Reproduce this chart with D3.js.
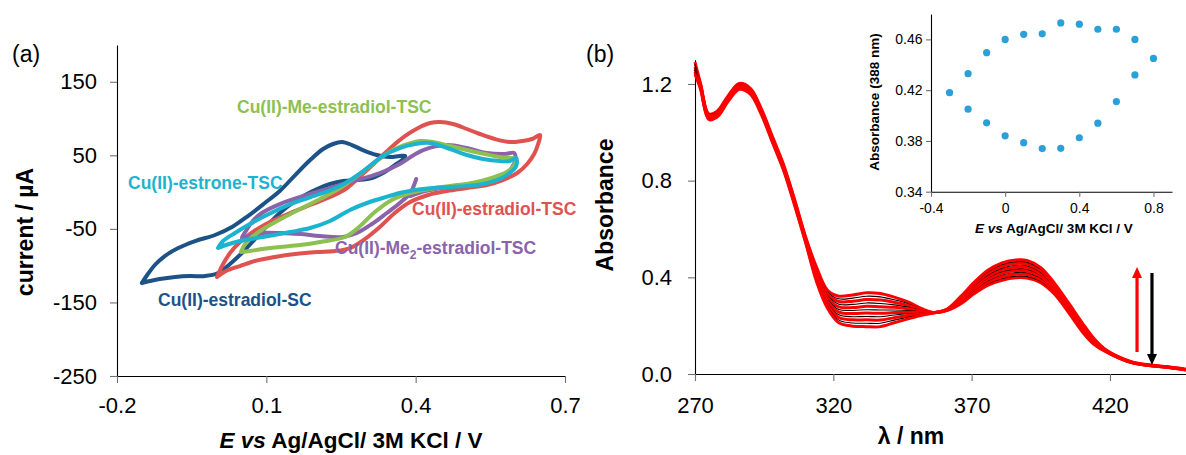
<!DOCTYPE html>
<html><head><meta charset="utf-8">
<script src="https://cdn.jsdelivr.net/npm/d3@7"></script>
<style>
html,body{margin:0;padding:0;background:#fff;}
svg{display:block;font-family:"Liberation Sans",Arial,Helvetica,sans-serif;}
</style></head><body>
<svg id="chart" width="1186" height="455"></svg>
<script>
// ---------------- Panel (a): cyclic voltammograms ----------------
const cvPotentialTicks = [-0.2, 0.1, 0.4, 0.7];
const cvPotentialTickLabels = ["-0.2", "0.1", "0.4", "0.7"];
const cvCurrentTicks = [150, 50, -50, -150, -250];
const cvCurrentTickLabels = ["150", "50", "-50", "-150", "-250"];

const cvEstradiolSC = [[-0.150,-123.6],[-0.138,-111.3],[-0.124,-99.1],[-0.104,-86.9],[-0.077,-76.0],[-0.043,-66.5],[-0.003,-58.3],[0.031,-47.4],[0.063,-32.5],[0.097,-14.8],[0.127,1.5],[0.158,23.2],[0.188,43.6],[0.214,58.6],[0.234,65.4],[0.252,68.1],[0.272,64.0],[0.294,57.2],[0.322,50.4],[0.348,47.7],[0.368,49.1],[0.379,49.1],[0.373,43.6],[0.358,36.8],[0.338,27.3],[0.312,19.2],[0.282,16.4],[0.254,15.1],[0.228,11.0],[0.202,4.2],[0.178,-3.9],[0.152,-14.8],[0.127,-28.4],[0.101,-46.1],[0.077,-63.8],[0.053,-81.4],[0.027,-97.7],[0.003,-110.0],[-0.023,-114.1],[-0.053,-114.1],[-0.083,-115.4],[-0.114,-118.1],[-0.134,-120.9],[-0.150,-123.6]];
const cvEstradiolTSC = [[0.001,-115.4],[0.011,-100.5],[0.027,-82.8],[0.047,-67.8],[0.073,-54.2],[0.107,-40.6],[0.148,-28.4],[0.188,-17.5],[0.228,-6.7],[0.262,5.6],[0.298,27.3],[0.328,46.4],[0.354,62.7],[0.379,76.3],[0.405,87.1],[0.429,93.9],[0.449,95.3],[0.475,92.6],[0.503,85.8],[0.529,79.0],[0.559,72.2],[0.589,68.1],[0.614,69.5],[0.634,72.2],[0.650,77.6],[0.646,65.4],[0.638,51.8],[0.624,38.2],[0.604,26.0],[0.575,16.4],[0.543,9.7],[0.503,5.6],[0.463,1.5],[0.425,-3.9],[0.389,-13.5],[0.358,-28.4],[0.328,-47.4],[0.298,-63.8],[0.268,-76.0],[0.238,-80.1],[0.202,-81.4],[0.158,-84.1],[0.117,-88.2],[0.077,-93.7],[0.047,-100.5],[0.019,-107.3],[0.001,-115.4]];
const cvMe2EstradiolTSC = [[0.401,17.8],[0.389,-1.2],[0.368,-14.8],[0.342,-28.4],[0.312,-43.4],[0.282,-55.6],[0.254,-61.0],[0.208,-59.7],[0.168,-57.0],[0.127,-55.6],[0.093,-55.6],[0.067,-59.7],[0.051,-62.4],[0.059,-52.9],[0.071,-40.6],[0.091,-28.4],[0.127,-16.2],[0.194,-1.2],[0.262,12.4],[0.328,25.9],[0.368,38.2],[0.393,49.1],[0.415,57.2],[0.463,64.0],[0.503,59.9],[0.543,53.2],[0.579,51.8],[0.598,53.2],[0.600,43.6],[0.593,32.8],[0.579,23.3],[0.549,16.4],[0.509,11.0],[0.463,6.9],[0.419,1.5],[0.389,-5.3]];
const cvMeEstradiolTSC = [[0.049,-81.4],[0.057,-70.6],[0.071,-61.0],[0.097,-48.8],[0.133,-35.2],[0.168,-23.0],[0.208,-9.4],[0.248,5.6],[0.288,24.6],[0.324,43.6],[0.354,57.2],[0.385,65.4],[0.409,69.5],[0.435,68.1],[0.469,62.7],[0.503,57.2],[0.539,51.8],[0.569,47.7],[0.589,46.4],[0.600,45.0],[0.597,35.5],[0.583,27.3],[0.553,19.2],[0.513,12.4],[0.469,8.3],[0.429,4.2],[0.389,-1.2],[0.352,-10.7],[0.318,-27.1],[0.284,-48.8],[0.258,-61.0],[0.208,-67.8],[0.168,-71.9],[0.127,-74.6],[0.091,-77.4],[0.067,-80.1],[0.049,-81.4]];
const cvEstroneTSC = [[0.003,-76.0],[0.013,-66.5],[0.037,-55.6],[0.067,-43.4],[0.097,-32.5],[0.148,-16.2],[0.202,-3.9],[0.248,8.3],[0.292,27.3],[0.334,49.1],[0.368,59.9],[0.399,65.4],[0.429,66.8],[0.469,58.6],[0.503,50.4],[0.535,45.0],[0.569,42.3],[0.589,42.3],[0.602,46.4],[0.602,35.5],[0.589,26.0],[0.569,17.8],[0.535,11.0],[0.503,8.3],[0.469,6.9],[0.435,5.6],[0.399,2.9],[0.368,-1.2],[0.334,-8.0],[0.302,-14.8],[0.268,-24.3],[0.228,-39.3],[0.188,-48.8],[0.148,-54.2],[0.093,-61.0],[0.047,-66.5],[0.019,-71.9],[0.003,-76.0]];

const cvSeries = [
  {name: "Cu(II)-estradiol-SC", color: "#1d5287", data: cvEstradiolSC},
  {name: "Cu(II)-estradiol-TSC", color: "#e05250", data: cvEstradiolTSC},
  {name: "Cu(II)-Me2-estradiol-TSC", color: "#8a63ab", data: cvMe2EstradiolTSC},
  {name: "Cu(II)-Me-estradiol-TSC", color: "#8dc050", data: cvMeEstradiolTSC},
  {name: "Cu(II)-estrone-TSC", color: "#1cb3cf", data: cvEstroneTSC}
];

// ---------------- Panel (b): UV-vis spectra ----------------
const uvTicks = [270, 320, 370, 420];
const uvTickLabels = ["270", "320", "370", "420"];
const absTicks = [0, 0.4, 0.8, 1.2];
const absTickLabels = ["0.0", "0.4", "0.8", "1.2"];

const uvWavelengths = [270,272,275,278,282,286,290,294,298,302,306,310,314,318,322,327,332,337,342,347,352,356,361,366,371,376,381,386,390,395,400,405,410,414,418,423,428,434,441,447.5];

const spectrum0  = [1.29,1.202,1.077,1.087,1.152,1.202,1.182,1.097,0.982,0.867,0.722,0.567,0.44, .345,.322,.327,.336,.333,.318,.298,.270,.255,.262,.290,.333,.368,.388,.398,.397,.378,.330,.255,.175,.125, .095,.067,.046,.035,.027,.017];
const spectrum1  = [1.28,1.200,1.075,1.085,1.150,1.200,1.180,1.095,0.980,0.865,0.720,0.565,0.435,.338,.311,.314,.322,.319,.307,.291,.267,.255,.263,.293,.338,.374,.395,.405,.404,.384,.335,.259,.179,.128, .096,.068,.046,.035,.027,.017];
const spectrum2  = [1.27,1.197,1.072,1.082,1.147,1.197,1.177,1.092,0.977,0.862,0.717,0.562,0.428,.330,.300,.301,.308,.306,.297,.284,.265,.254,.263,.296,.342,.380,.402,.413,.412,.390,.339,.263,.182,.130, .097,.068,.047,.035,.028,.017];
const spectrum3  = [1.28,1.195,1.070,1.080,1.145,1.195,1.175,1.090,0.975,0.860,0.715,0.560,0.422,.323,.289,.288,.294,.292,.286,.277,.262,.254,.264,.299,.347,.387,.410,.420,.419,.397,.344,.267,.186,.133, .098,.069,.047,.036,.028,.018];
const spectrum4  = [1.26,1.192,1.067,1.077,1.142,1.192,1.172,1.087,0.972,0.857,0.712,0.557,0.415,.315,.278,.275,.280,.278,.276,.270,.259,.254,.264,.302,.352,.393,.417,.428,.426,.403,.348,.271,.190,.135, .099,.069,.047,.036,.028,.018];
const spectrum5  = [1.27,1.190,1.065,1.075,1.140,1.190,1.170,1.085,0.970,0.855,0.710,0.555,0.410,.308,.267,.263,.266,.265,.265,.263,.257,.254,.265,.305,.357,.399,.424,.435,.434,.409,.353,.275,.194,.138, .100,.070,.048,.036,.028,.018];
const spectrum6  = [1.25,1.188,1.063,1.073,1.138,1.188,1.168,1.083,0.968,0.853,0.708,0.553,0.405,.300,.256,.250,.252,.251,.254,.256,.254,.253,.266,.308,.361,.405,.431,.442,.441,.415,.357,.279,.197,.140, .101,.070,.048,.036,.028,.018];
const spectrum7  = [1.26,1.185,1.060,1.070,1.135,1.185,1.165,1.080,0.965,0.850,0.705,0.550,0.398,.293,.245,.237,.238,.237,.244,.249,.251,.253,.266,.311,.366,.411,.438,.450,.448,.421,.362,.283,.201,.143, .102,.071,.048,.037,.029,.019];
const spectrum8  = [1.25,1.183,1.058,1.068,1.133,1.183,1.163,1.078,0.963,0.848,0.703,0.548,0.392,.285,.234,.224,.224,.223,.233,.242,.248,.253,.267,.314,.371,.418,.446,.457,.455,.428,.366,.287,.205,.145, .103,.071,.049,.037,.029,.019];
const spectrum9  = [1.26,1.180,1.055,1.065,1.130,1.180,1.160,1.075,0.960,0.845,0.700,0.545,0.385,.278,.223,.211,.210,.210,.223,.235,.246,.252,.267,.317,.375,.424,.453,.465,.463,.434,.371,.291,.208,.148, .104,.072,.049,.037,.029,.019];
const spectrum10 = [1.24,1.178,1.053,1.063,1.128,1.178,1.158,1.073,0.958,0.843,0.698,0.543,0.380,.270,.212,.198,.196,.196,.212,.228,.243,.252,.268,.320,.380,.430,.460,.472,.470,.440,.375,.295,.212,.150, .105,.072,.050,.038,.030,.020];

const spectraOrder = [
  {values: spectrum0, kind: "red"}, {values: spectrum1, kind: "black"},
  {values: spectrum2, kind: "red"}, {values: spectrum3, kind: "black"},
  {values: spectrum4, kind: "red"}, {values: spectrum5, kind: "black"},
  {values: spectrum6, kind: "red"}, {values: spectrum7, kind: "black"},
  {values: spectrum8, kind: "red"}, {values: spectrum9, kind: "black"},
  {values: spectrum10, kind: "red"}
];

// arrows (wavelength, from absorbance, to absorbance)
const arrowRed = [429.8, 0.091, 0.443];
const arrowBlack = [435.2, 0.418, 0.037];

// ---------------- Inset ----------------
const insetPotentialTicks = [-0.4, 0, 0.4, 0.8];
const insetPotentialTickLabels = ["-0.4", "0", "0.4", "0.8"];
const insetAbsTicks = [0.34, 0.38, 0.42, 0.46];
const insetAbsTickLabels = ["0.34", "0.38", "0.42", "0.46"];
const insetPotential = [-0.3,-0.2,-0.1,0,0.1,0.2,0.3,0.4,0.5,0.6,0.7,0.8, 0.7,0.6,0.5,0.4,0.3,0.2,0.1,0,-0.1,-0.2];
const insetAbs388 = [0.418,0.433,0.4495,0.460,0.464,0.4644,0.473,0.472,0.468,0.468,0.460,0.445, 0.432,0.411,0.394,0.3825,0.3742,0.374,0.3786,0.384,0.3943,0.405];

// ================= drawing =================
const svg = d3.select("#chart");
svg.append("rect").attr("width",1186).attr("height",455).attr("fill","#fff");
const FONT = '"Liberation Sans", Arial, Helvetica, sans-serif';

function styleAxis(g, fontSize) {
  g.select(".domain").attr("stroke", "#000").attr("stroke-width", 1.1);
  g.selectAll(".tick line").attr("stroke", "#707070").attr("stroke-width", 1.1);
  g.selectAll(".tick text").attr("fill", "#000").attr("font-size", fontSize).attr("font-family", FONT);
  g.attr("font-family", FONT);
}

// ---- Panel (a)
const xA = d3.scaleLinear().domain([-0.2, 0.7]).range([117, 565]);
const yA = d3.scaleLinear().domain([-250, 200]).range([376, 45]);

const gAy = svg.append("g").attr("transform", "translate(117,0)")
  .call(d3.axisLeft(yA).tickValues(cvCurrentTicks).tickFormat((d,i)=>cvCurrentTickLabels[i]).tickSize(7).tickSizeOuter(0).tickPadding(13));
styleAxis(gAy, 22);
const gAx = svg.append("g").attr("transform", "translate(0,376)")
  .call(d3.axisBottom(xA).tickValues(cvPotentialTicks).tickFormat((d,i)=>cvPotentialTickLabels[i]).tickSize(7).tickSizeOuter(0).tickPadding(14));
styleAxis(gAx, 22);

const cvLine = d3.line().x(d=>xA(d[0])).y(d=>yA(d[1])).curve(d3.curveCatmullRom.alpha(0.5));
svg.append("g").selectAll("path").data(cvSeries).join("path")
  .attr("d", d=>cvLine(d.data)).attr("fill","none").attr("stroke", d=>d.color)
  .attr("stroke-width", 4).attr("stroke-linejoin","round").attr("stroke-linecap","round");

// labels for panel (a)
const labFont = 17.5;
function cvLabel(text, color, x, y) {
  return svg.append("text").attr("x", x).attr("y", y).attr("fill", color)
    .attr("font-size", labFont).attr("font-weight", "bold").attr("font-family", FONT).text(text);
}
cvLabel("Cu(II)-Me-estradiol-TSC", cvSeries[3].color, 237, 113);
cvLabel("Cu(II)-estrone-TSC", cvSeries[4].color, 128, 189);
cvLabel("Cu(II)-estradiol-TSC", cvSeries[1].color, 412, 215);
cvLabel("Cu(II)-estradiol-SC", cvSeries[0].color, 158, 306);
{
  const t = svg.append("text").attr("x", 335).attr("y", 254).attr("fill", cvSeries[2].color)
    .attr("font-size", labFont).attr("font-weight", "bold").attr("font-family", FONT);
  t.append("tspan").text("Cu(II)-Me");
  t.append("tspan").attr("font-size", 12).attr("dy", 5).text("2");
  t.append("tspan").attr("dy", -5).text("-estradiol-TSC");
}

// titles (a)
svg.append("text").attr("transform","translate(33,232) rotate(-90)").attr("text-anchor","middle")
  .attr("font-size", 23).attr("font-weight","bold").attr("font-family", FONT).text("current / µA");
{
  const t = svg.append("text").attr("x", 351).attr("y", 448).attr("text-anchor","middle")
    .attr("font-size", 22.5).attr("font-weight","bold").attr("font-family", FONT);
  t.append("tspan").attr("font-style","italic").text("E vs");
  t.append("tspan").text(" Ag/AgCl/ 3M KCl / V");
}
svg.append("text").attr("x", 12).attr("y", 62).attr("font-size", 23).attr("font-family", FONT).text("(a)");

// ---- Panel (b)
const xB = d3.scaleLinear().domain([270, 447.5]).range([695, 1186]);
const yB = d3.scaleLinear().domain([0, 1.3]).range([374, 59.8]);

const gBy = svg.append("g").attr("transform", "translate(695,0)")
  .call(d3.axisLeft(yB).tickValues(absTicks).tickFormat((d,i)=>absTickLabels[i]).tickSize(7).tickSizeOuter(0).tickPadding(16));
styleAxis(gBy, 22);
const gBx = svg.append("g").attr("transform", "translate(0,374)")
  .call(d3.axisBottom(xB).tickValues(uvTicks).tickFormat((d,i)=>uvTickLabels[i]).tickSize(7).tickSizeOuter(0).tickPadding(16));
styleAxis(gBx, 22);

const specLine = d3.line().x((d,i)=>xB(uvWavelengths[i])).y(d=>yB(d)).curve(d3.curveCatmullRom.alpha(0.5));
svg.append("g").selectAll("path").data(spectraOrder).join("path")
  .attr("d", d=>specLine(d.values)).attr("fill","none")
  .attr("stroke", d=>d.kind==="red" ? "#ff0000" : "#000")
  .attr("stroke-width", d=>d.kind==="red" ? 3 : 1.1)
  .attr("stroke-linejoin","round");

// arrows
function arrow(spec, color) {
  const x = xB(spec[0]), y1 = yB(spec[1]), y2 = yB(spec[2]);
  const dir = y2 < y1 ? -1 : 1;
  const headLen = 11, headW = 5;
  svg.append("line").attr("x1", x).attr("x2", x).attr("y1", y1).attr("y2", y2 - dir*headLen)
    .attr("stroke", color).attr("stroke-width", 3.2);
  svg.append("path").attr("d", `M${x},${y2} L${x-headW},${y2-dir*headLen} L${x+headW},${y2-dir*headLen} Z`).attr("fill", color);
}
arrow(arrowRed, "#ff0000");
arrow(arrowBlack, "#000");

svg.append("text").attr("transform","translate(613,205) rotate(-90)").attr("text-anchor","middle")
  .attr("font-size", 23).attr("font-weight","bold").attr("font-family", FONT).text("Absorbance");
svg.append("text").attr("x", 911).attr("y", 444).attr("text-anchor","middle")
  .attr("font-size", 23).attr("font-weight","bold").attr("font-family", FONT).text("λ / nm");
svg.append("text").attr("x", 586).attr("y", 62).attr("font-size", 23).attr("font-family", FONT).text("(b)");

// ---- Inset
const xI = d3.scaleLinear().domain([-0.4, 0.9]).range([931, 1172]);
const yI = d3.scaleLinear().domain([0.34, 0.48]).range([191.7, 14]);
const gIy = svg.append("g").attr("transform", "translate(931,0)")
  .call(d3.axisLeft(yI).tickValues(insetAbsTicks).tickFormat((d,i)=>insetAbsTickLabels[i]).tickSize(5).tickSizeOuter(0).tickPadding(3.5));
styleAxis(gIy, 14);
const gIx = svg.append("g").attr("transform", "translate(0,191.7)")
  .call(d3.axisBottom(xI).tickValues(insetPotentialTicks).tickFormat((d,i)=>insetPotentialTickLabels[i]).tickSize(5).tickSizeOuter(0).tickPadding(6));
styleAxis(gIx, 14);

svg.append("g").selectAll("circle").data(insetPotential).join("circle")
  .attr("cx", d=>xI(d)).attr("cy", (d,i)=>yI(insetAbs388[i])).attr("r", 3.6).attr("fill", "#2a9fd8");

svg.append("text").attr("transform","translate(879,102) rotate(-90)").attr("text-anchor","middle")
  .attr("font-size", 13.5).attr("font-weight","bold").attr("font-family", FONT).text("Absorbance (388 nm)");
{
  const t = svg.append("text").attr("x", 1054).attr("y", 233).attr("text-anchor","middle")
    .attr("font-size", 13.5).attr("font-weight","bold").attr("font-family", FONT);
  t.append("tspan").attr("font-style","italic").text("E vs");
  t.append("tspan").text(" Ag/AgCl/ 3M KCl / V");
}
</script></body></html>
